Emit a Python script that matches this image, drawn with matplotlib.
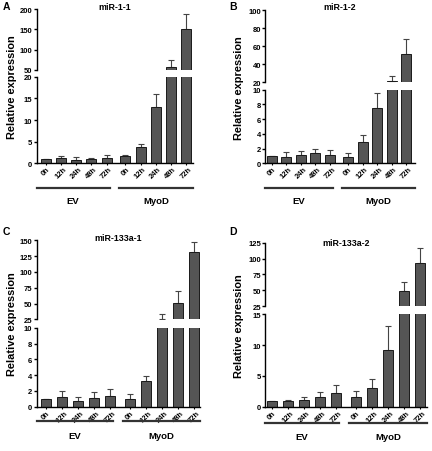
import matplotlib
matplotlib.use('Agg')
import matplotlib.pyplot as plt
import matplotlib.transforms as mtransforms
import numpy as np

plt.rcParams['font.family'] = ['Liberation Sans', 'DejaVu Sans']
plt.rcParams['font.weight'] = 'bold'

W, H = 432, 452  # taille de la figure en pixels

time_labels = ['0h', '12h', '24h', '48h', '72h']
groups = ['EV', 'MyoD']

# moyennes (EV 0h..72h puis MyoD 0h..72h) et SEM
a_vals = [1.0, 1.15, 0.85, 1.0, 1.3, 1.7, 3.85, 13.1, 56, 150]
a_sem = [0, 0.45, 0.6, 0.15, 0.7, 0.15, 0.55, 2.8, 19, 38]
b_vals = [1.0, 0.86, 1.13, 1.4, 1.1, 0.82, 2.95, 7.5, 21.8, 51]
b_sem = [0, 0.64, 0.5, 0.55, 0.75, 0.58, 0.85, 2.1, 5.5, 16.5]
c_vals = [1.0, 1.2, 0.75, 1.1, 1.4, 0.95, 3.2, 25.5, 51, 132]
c_sem = [0, 0.8, 0.5, 0.75, 0.8, 0.65, 0.65, 8, 19.5, 16]
d_vals = [1.0, 0.85, 1.13, 1.56, 2.15, 1.5, 3.1, 9.25, 49, 92.5]
d_sem = [0, 0.3, 0.5, 0.75, 1.4, 1.0, 1.35, 3.9, 14, 23.5]

titles = ['miR-1-1', 'miR-1-2', 'miR-133a-1', 'miR-133a-2']
letters = ['A', 'B', 'C', 'D']
top_ticks = [[50, 100, 150, 200], [20, 40, 60, 80, 100],
             [25, 50, 75, 100, 125, 150], [25, 50, 75, 100, 125]]
bot_ticks = [[0, 5, 10, 15, 20], [0, 2, 4, 6, 8, 10],
             [0, 2, 4, 6, 8, 10], [0, 5, 10, 15]]

# mise en page en pixels : gauche, droite, haut(top), bas(top), haut(bas), bas(bas)
boxes = [(36.5, 193, 10.3, 70.7, 77.7, 164.3),
         (265.3, 415, 11, 83.3, 90.7, 164.3),
         (36.5, 200, 241.3, 320.3, 328.7, 407.7),
         (265.3, 427, 243.7, 307, 315.3, 407.7)]
first_last = [(46, 186), (272, 406), (46, 194), (272, 420)]
line_y = [189, 189, 421.7, 424]
label_y = [201.7, 201.7, 437, 438]
title_y = [7, 7, 239, 244]

pos = np.array([0, 1, 2, 3, 4, 5.25, 6.25, 7.25, 8.25, 9.25])

fig = plt.figure(figsize=(W / 100, H / 100), dpi=100)

def rect(x0, x1, y0, y1):
    return [x0 / W, 1 - y1 / H, (x1 - x0) / W, (y1 - y0) / H]

def draw_bars(ax, vals, sem, width):
    ax.bar(pos, vals, width=width, color='#555555', edgecolor='#1a1a1a', linewidth=0.7, zorder=2)
    ax.errorbar(pos, vals, yerr=[np.zeros(len(sem)), sem], fmt='none', ecolor='#444444',
                elinewidth=0.8, capsize=2, capthick=0.8, zorder=1)

all_vals = [a_vals, b_vals, c_vals, d_vals]
all_sem = [a_sem, b_sem, c_sem, d_sem]

for k in range(4):
    x0, x1, t0, t1, b0, b1 = boxes[k]
    f, l = first_last[k]
    s = (l - f) / pos[-1]
    xl = -(f - x0) / s
    xr = pos[-1] + (x1 - l) / s
    width = 10 / s

    ax_t = fig.add_axes(rect(x0, x1, t0, t1))
    ax_b = fig.add_axes(rect(x0, x1, b0, b1))
    for ax in (ax_t, ax_b):
        draw_bars(ax, all_vals[k], all_sem[k], width)
        ax.set_xlim(xl, xr)
        ax.spines['top'].set_visible(False)
        ax.spines['right'].set_visible(False)
        for sp in ax.spines.values():
            sp.set_linewidth(1.0)
        ax.tick_params(axis='y', labelsize=5.5, length=2.2, width=1.0, pad=0.8)
        ax.patch.set_alpha(0)

    ax_t.set_ylim(top_ticks[k][0], top_ticks[k][-1])
    ax_t.set_yticks(top_ticks[k])
    ax_t.spines['bottom'].set_visible(False)
    ax_t.tick_params(axis='x', bottom=False, labelbottom=False)

    ax_b.set_ylim(bot_ticks[k][0], bot_ticks[k][-1])
    ax_b.set_yticks(bot_ticks[k])
    ax_b.set_xticks(pos)
    ax_b.set_xticklabels(time_labels * 2, rotation=45, ha='center', va='top')
    ax_b.tick_params(axis='x', labelsize=5.4, length=1.6, width=0.8, pad=0.0)

    # lignes des groupes EV / MyoD sous l'axe
    tr = mtransforms.blended_transform_factory(ax_b.transData, fig.transFigure)
    yl = 1 - line_y[k] / H
    ax_b.plot([xl, 4.2], [yl, yl], transform=tr, color='#333333', lw=1.6, clip_on=False)
    ax_b.plot([4.8, xr], [yl, yl], transform=tr, color='#333333', lw=1.6, clip_on=False)
    yt = 1 - label_y[k] / H
    ax_b.text((xl + 4.2) / 2, yt, groups[0], transform=tr, ha='center', va='center', fontsize=6.8)
    ax_b.text((4.8 + xr) / 2, yt, groups[1], transform=tr, ha='center', va='center', fontsize=6.8)

    # titre, lettre et label y
    fig.text((x0 + x1) / 2 / W, 1 - title_y[k] / H, titles[k], ha='center', va='center', fontsize=6.4)
    lx = 3 if k % 2 == 0 else 229
    ly = 2 if k < 2 else 227
    fig.text(lx / W, 1 - ly / H, letters[k], ha='left', va='top', fontsize=7.5)
    yx = 12 if k % 2 == 0 else 238.7
    fig.text(yx / W, 1 - (t0 + b1) / 2 / H, 'Relative expression', rotation=90,
             ha='center', va='center', fontsize=7.9)

fig.savefig('out.png', dpi=100)
